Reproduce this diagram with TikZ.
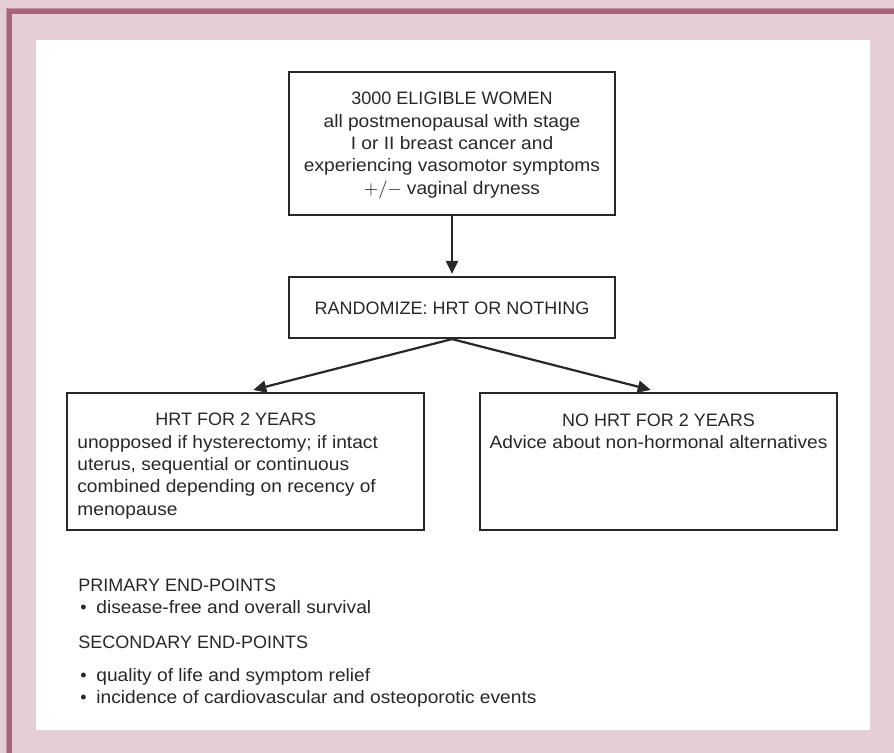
\documentclass[tikz,border=0pt]{standalone}
\usepackage{fontspec}
\setmainfont{Liberation Sans}
\newfontfamily\widefont[FakeStretch=1.065]{Liberation Sans}
\usetikzlibrary{arrows.meta}
\definecolor{pinkbg}{RGB}{229,206,213}
\definecolor{mauve}{RGB}{166,100,122}
\definecolor{mauvelt}{RGB}{196,150,165}
\definecolor{ink}{RGB}{40,40,40}
\newcommand\blt{\makebox[9pt][l]{\hspace{1pt}•}}
\begin{document}
\begin{tikzpicture}[x=0.5pt,y=-0.5pt,
  txt/.style={text=ink,font=\fontsize{9}{11.15}\selectfont,inner sep=0pt},
  box/.style={draw=ink,line width=1.1pt,inner sep=0pt},
  arr/.style={draw=ink,line width=1.1pt,-{Triangle[length=6.5pt,width=6pt]}}]
% frame
\fill[pinkbg] (0,0) rectangle (894,753);
\useasboundingbox (0,0) rectangle (894,753);
\fill[white] (36,40) rectangle (870,730);
\fill[mauvelt] (6,8) rectangle (894,14);
\fill[mauvelt] (6,8) rectangle (11.5,753);
\fill[mauve] (7,9) rectangle (894,14);
\fill[mauve] (7,9) rectangle (11.5,753);
% boxes
\node[box,minimum width=163pt,minimum height=71.5pt] (top) at (452,143.5) {};
\node[box,minimum width=163pt,minimum height=30.5pt] (rand) at (452,307.5) {};
\node[box,minimum width=178.5pt,minimum height=68.5pt] (left) at (245.5,461.5) {};
\node[box,minimum width=178.5pt,minimum height=68.5pt] (right) at (658.5,461.5) {};
% texts
\node[txt,align=center] (toptext) at (452,145.5) {3000 ELIGIBLE WOMEN\\ {\widefont all postmenopausal with stage}\\ {\widefont I or II breast cancer and}\\ {\widefont experiencing vasomotor symptoms}\\ \ensuremath{+/-} {\widefont vaginal dryness}};
\node[txt] (randtext) at (452,308) {RANDOMIZE: HRT OR NOTHING};
\node[txt,align=left,anchor=west] (lefttext) at (77,466) {\hspace*{39pt}HRT FOR 2 YEARS\\ {\widefont unopposed if hysterectomy; if intact}\\ {\widefont uterus, sequential or continuous}\\ {\widefont combined depending on recency of}\\ {\widefont menopause}};
\node[txt,align=center] (righttext) at (658.5,431) {NO HRT FOR 2 YEARS\\ {\widefont Advice about non-hormonal alternatives}};
\node[txt,anchor=base west] (p1) at (78,591) {PRIMARY END-POINTS};
\node[txt,anchor=base west] (p2) at (78,613.5) {\blt{\widefont disease-free and overall survival}};
\node[txt,anchor=base west] (s1) at (78,648) {SECONDARY END-POINTS};
\node[txt,anchor=base west] (s2) at (78,681) {\blt{\widefont quality of life and symptom relief}};
\node[txt,anchor=base west] (s3) at (78,703) {\blt{\widefont incidence of cardiovascular and osteoporotic events}};
% arrows
\draw[arr,shorten >=1pt] (top) -- (rand);
\draw[arr,shorten >=4pt] (rand.south) -- (left.north);
\draw[arr,shorten >=4pt] (rand.south) -- (right.north);
\end{tikzpicture}
\end{document}
